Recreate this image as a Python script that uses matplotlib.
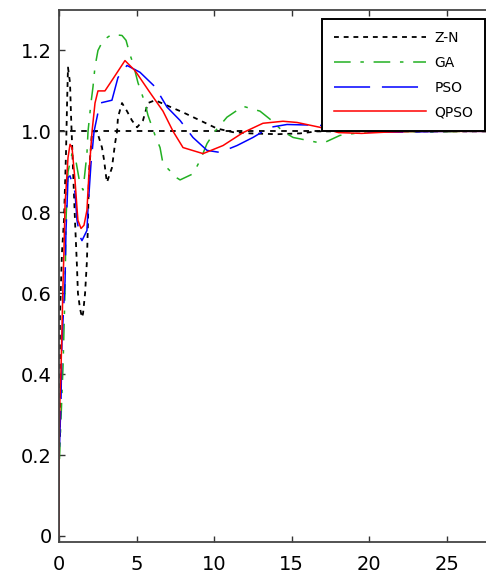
import matplotlib
matplotlib.use("Agg")
import matplotlib.pyplot as plt

# step responses (time, output)
zn_t = [0.06, 0.06, 0.19, 0.32, 0.45, 0.52, 0.58, 0.71, 0.77, 0.90, 1.03, 1.16, 1.22,
        1.35, 1.48, 1.55, 1.68, 1.80, 1.87, 1.93, 2.13, 2.45, 2.77, 2.90, 3.03, 3.09,
        3.41, 3.61, 3.74, 3.80, 4.06, 4.38, 4.70, 5.03, 5.41, 5.73, 6.19, 6.96, 7.99,
        9.09, 10.18, 11.21, 12.31, 14.05, 15.53, 16.62, 20.0, 28.0]
zn_v = [0.245, 0.54, 0.70, 0.78, 0.945, 1.07, 1.158, 1.12, 1.045, 0.91, 0.78, 0.664, 0.60,
        0.563, 0.54, 0.55, 0.60, 0.68, 0.78, 0.896, 1.0, 1.0, 0.96, 0.93, 0.89, 0.874,
        0.91, 0.97, 1.0, 1.035, 1.07, 1.05, 1.027, 1.01, 1.027, 1.07, 1.077, 1.064, 1.047,
        1.027, 1.007, 0.998, 0.995, 0.993, 0.995, 1.0, 1.0, 1.0]

ga_t = [0.03, 0.26, 0.39, 0.45, 0.58, 0.84, 1.03, 1.35, 1.55, 1.80, 1.87, 2.06, 2.19,
        2.32, 2.51, 2.84, 3.41, 4.06, 4.32, 4.57, 4.77, 5.09, 5.54, 5.73, 6.19, 6.51,
        6.70, 7.60, 7.80, 8.63, 9.09, 9.54, 10.05, 10.82, 11.86, 12.95, 13.60, 14.43,
        15.08, 16.62, 17.14, 18.1, 20.0, 22.0, 24.0, 26.0, 28.0]
ga_v = [0.19, 0.42, 0.61, 0.78, 0.90, 0.945, 0.94, 0.87, 0.855, 0.945, 1.0, 1.07, 1.11,
        1.16, 1.20, 1.225, 1.24, 1.237, 1.225, 1.19, 1.168, 1.12, 1.07, 1.04, 0.99, 0.96,
        0.92, 0.885, 0.88, 0.895, 0.928, 0.97, 1.0, 1.035, 1.062, 1.05, 1.03, 1.0,
        0.985, 0.973, 0.973, 0.99, 1.0, 1.0, 0.998, 1.0, 1.0]

pso_t = [0.03, 0.13, 0.19, 0.32, 0.39, 0.45, 0.52, 0.58, 0.71, 1.03, 1.16, 1.35, 1.48,
         1.80, 1.87, 2.06, 2.26, 2.45, 2.64, 3.41, 3.80, 4.38, 5.22, 6.19, 6.96, 7.80,
         8.63, 9.54, 10.37, 11.47, 12.50, 13.60, 14.69, 16.82, 18.0, 19.5, 22.0, 25.0, 28.0]
pso_v = [0.22, 0.336, 0.48, 0.58, 0.63, 0.755, 0.82, 0.886, 0.89, 0.85, 0.78, 0.74, 0.73,
         0.755, 0.81, 0.92, 1.0, 1.035, 1.07, 1.077, 1.133, 1.163, 1.146, 1.11, 1.06, 1.027,
         0.985, 0.953, 0.948, 0.965, 0.985, 1.01, 1.017, 1.015, 1.008, 0.998, 0.998, 1.0, 1.0]

qpso_t = [0.0, 0.02, 0.06, 0.13, 0.19, 0.26, 0.32, 0.39, 0.58, 0.71, 0.84, 1.03, 1.16,
          1.22, 1.42, 1.61, 1.80, 1.93, 2.13, 2.32, 2.51, 2.96, 3.48, 4.25, 4.90, 5.86,
          6.70, 7.35, 7.99, 9.28, 10.57, 11.86, 13.14, 14.43, 15.34, 16.82, 18.0, 19.5,
          21.0, 23.0, 25.0, 28.0]
qpso_v = [0.0, 0.25, 0.336, 0.41, 0.51, 0.625, 0.706, 0.82, 0.935, 0.968, 0.96, 0.88, 0.81,
          0.78, 0.76, 0.768, 0.805, 0.896, 1.0, 1.07, 1.10, 1.10, 1.13, 1.175, 1.15, 1.096,
          1.05, 1.0, 0.96, 0.945, 0.965, 0.997, 1.02, 1.025, 1.022, 1.01, 0.997, 0.995,
          0.998, 1.0, 1.0, 1.0]

setpoint = 1.0
x_ticks = [0, 5, 10, 15, 20, 25]
y_ticks = [0, 0.2, 0.4, 0.6, 0.8, 1.0, 1.2]
y_labels = ["0", "0.2", "0.4", "0.6", "0.8", "1.0", "1.2"]

plt.rcParams["lines.scale_dashes"] = False
plt.rcParams["font.family"] = "DejaVu Sans"

fig = plt.figure(figsize=(4.86, 5.74), dpi=100)
ax = fig.add_axes([59 / 486, 32 / 574, 431 / 486, 532 / 574])

ax.axhline(setpoint, color="black", lw=1.3, ls=(0, (4, 4)), zorder=1)
ax.plot(zn_t, zn_v, color="black", lw=1.3, ls=(0, (3.5, 3.5)), label="Z-N")
ax.plot(ga_t, ga_v, color="#22b022", lw=1.1, ls=(0, (12, 7, 2.5, 7)), label="GA")
ax.plot(pso_t, pso_v, color="#0000ff", lw=1.1, ls=(0, (26, 8.5)), label="PSO")
ax.plot(qpso_t, qpso_v, color="#ff0000", lw=1.1, label="QPSO")

ax.set_xlim(0, 27.77)
ax.set_ylim(-0.015, 1.3)
ax.set_xticks(x_ticks)
ax.set_yticks(y_ticks)
ax.set_yticklabels(y_labels)
ax.tick_params(direction="in", length=4, width=1, colors="#333333",
               labelcolor="black", labelsize=14, top=True)
ax.tick_params(axis="x", pad=9)
ax.tick_params(axis="y", pad=5)
for s in ax.spines.values():
    s.set_color("#444444")
    s.set_linewidth(1.3)

leg = ax.legend(loc="upper right", bbox_to_anchor=(0.988, 0.983), borderaxespad=0,
                fancybox=False, framealpha=1, edgecolor="black",
                prop={"family": "DejaVu Sans", "size": 10},
                handlelength=6.6, handletextpad=0.6, labelspacing=0.78,
                borderpad=0.85)
leg.get_frame().set_linewidth(1.4)

fig.savefig("out.png", dpi=100)
